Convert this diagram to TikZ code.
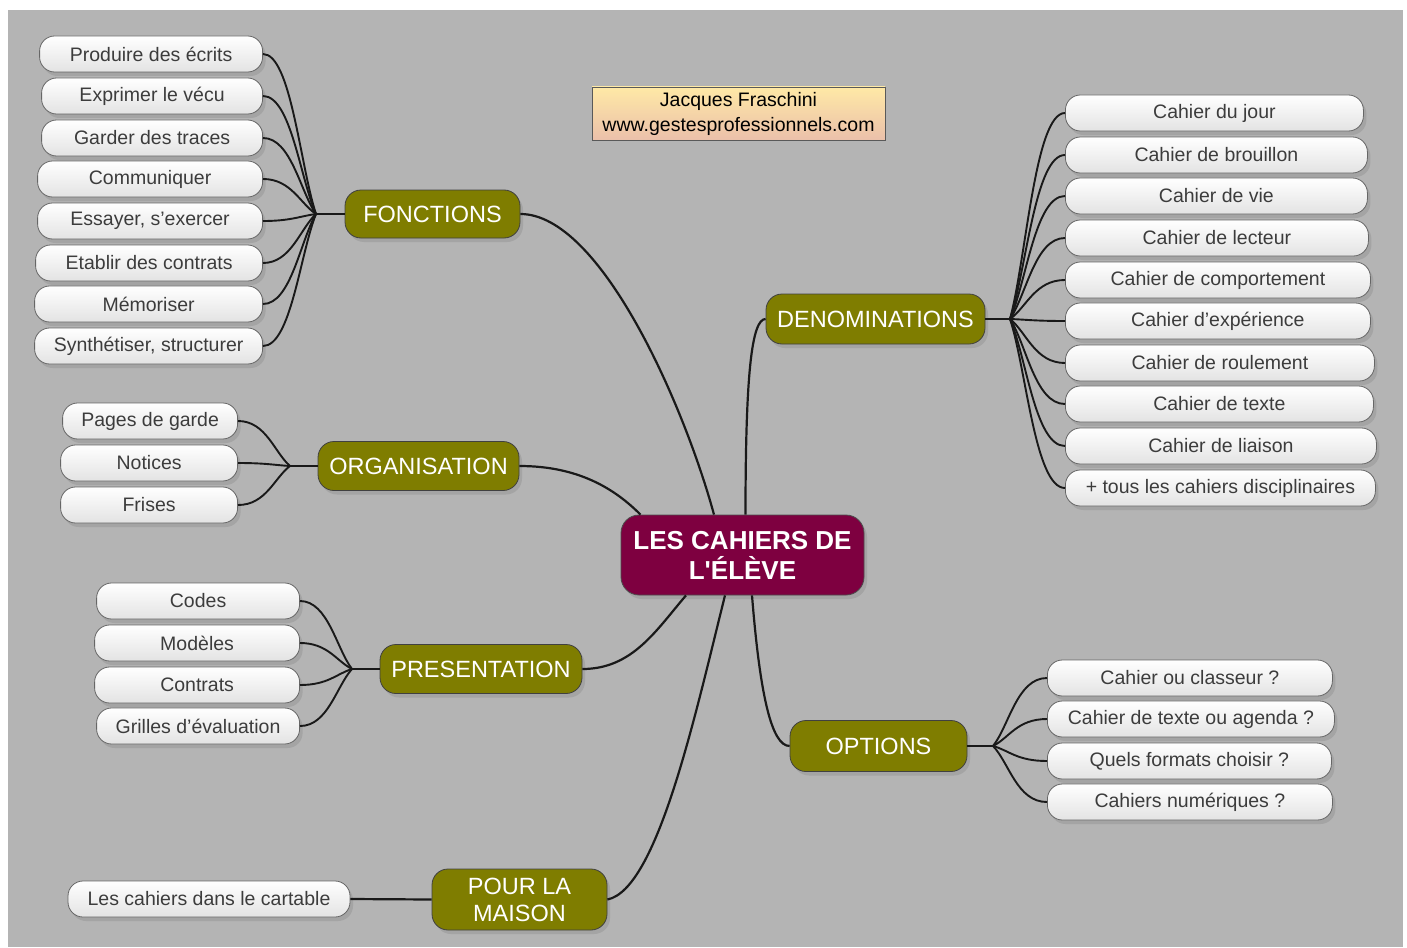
\documentclass[tikz,border=0pt]{standalone}
\usepackage{fontspec}
\setmainfont{Liberation Sans}
\newfontfamily\plainsans{Liberation Sans}
\usetikzlibrary{shadows,calc}
\definecolor{bgray}{HTML}{B4B4B4}
\definecolor{olivebr}{HTML}{7F7D00}
\definecolor{maroonc}{HTML}{7E0040}
\definecolor{leaftxt}{HTML}{3C3C3C}
\definecolor{authtop}{HTML}{FFE9A6}
\definecolor{authbot}{HTML}{EBC0AA}
\begin{document}
\begin{tikzpicture}[x=1pt,y=-1pt,
  leaf/.style={draw=gray!80!black, line width=0.8pt, rounded corners=15pt,
    top color=white, bottom color=gray!22, minimum height=36pt, inner sep=0pt,
    text=leaftxt, font=\fontsize{19.5}{23}\selectfont,
    drop shadow={shadow xshift=3pt,shadow yshift=-4pt,opacity=0.3}},
  branch/.style={draw=black!75, line width=0.8pt, rounded corners=16pt, fill=olivebr,
    inner sep=0pt, text=white, font=\fontsize{23.5}{27}\selectfont, align=center,
    drop shadow={shadow xshift=3pt,shadow yshift=-4pt,opacity=0.3}},
  central/.style={draw=black!70, line width=0.8pt, rounded corners=18pt, fill=maroonc,
    inner sep=0pt, text=white, font=\plainsans\fontsize{26}{30}\selectfont\bfseries, align=center,
    drop shadow={shadow xshift=3pt,shadow yshift=-4pt,opacity=0.3}},
  author/.style={draw=gray!70!black, line width=0.8pt, top color=authtop, bottom color=authbot,
    inner sep=0pt, align=center, font=\fontsize{19.5}{25}\selectfont},
  conn/.style={draw=black!90, line width=2.2pt},
  leafconn/.style={draw=black!90, line width=1.9pt}
]
\fill[white] (0,0) rectangle (1407,947);
\fill[bgray] (8,10) rectangle (1403,947);

% central node
\node[central, minimum width=243pt, minimum height=80pt] (c) at (742.5,555) {LES CAHIERS DE\\L'ÉLÈVE};

% author
\node[author, minimum width=293pt, minimum height=53pt] (auth) at (738.5,113.5) {Jacques Fraschini\\www.gestesprofessionnels.com};

% branches
\node[branch, minimum width=175pt, minimum height=48pt] (F) at (432.5,214) {FONCTIONS};
\node[branch, minimum width=201pt, minimum height=49pt] (O) at (418.5,466) {ORGANISATION};
\node[branch, minimum width=202pt, minimum height=49pt] (P) at (481,669) {PRESENTATION};
\node[branch, minimum width=175pt, minimum height=61pt] (M) at (519.5,899.5) {POUR LA\\MAISON};
\node[branch, minimum width=219pt, minimum height=50pt] (D) at (875.5,319) {DENOMINATIONS};
\node[branch, minimum width=177pt, minimum height=51pt] (Q) at (878.5,746) {OPTIONS};

% junctions
\coordinate (FJ) at (316,214);
\coordinate (OJ) at (290,466);
\coordinate (PJ) at (352,669);
\coordinate (DJ) at (1010,319);
\coordinate (QJ) at (993,746);

% FONCTIONS leaves
\node[leaf, minimum width=223pt, anchor=east] (f1) at (263,54) {Produire des écrits};
\node[leaf, minimum width=221pt, anchor=east] (f2) at (263,96) {Exprimer le vécu};
\node[leaf, minimum width=221pt, anchor=east] (f3) at (263,138) {Garder des traces};
\node[leaf, minimum width=225pt, anchor=east] (f4) at (263,179) {Communiquer};
\node[leaf, minimum width=225pt, anchor=east] (f5) at (263,221) {Essayer, s’exercer};
\node[leaf, minimum width=227pt, anchor=east] (f6) at (263,263) {Etablir des contrats};
\node[leaf, minimum width=228pt, anchor=east] (f7) at (263,304) {Mémoriser};
\node[leaf, minimum width=228pt, anchor=east] (f8) at (263,346) {Synthétiser, structurer};

% ORGANISATION leaves
\node[leaf, minimum width=175pt, anchor=east] (o1) at (238,421) {Pages de garde};
\node[leaf, minimum width=177pt, anchor=east] (o2) at (238,463) {Notices};
\node[leaf, minimum width=177pt, anchor=east] (o3) at (238,505) {Frises};

% PRESENTATION leaves
\node[leaf, minimum width=203pt, anchor=east] (p1) at (300,601) {Codes};
\node[leaf, minimum width=205pt, anchor=east] (p2) at (300,643) {Modèles};
\node[leaf, minimum width=205pt, anchor=east] (p3) at (300,685) {Contrats};
\node[leaf, minimum width=203pt, anchor=east] (p4) at (300,726) {Grilles d’évaluation};

% MAISON leaf
\node[leaf, minimum width=282pt] (m1) at (209,899) {Les cahiers dans le cartable};

% DENOMINATIONS leaves
\node[leaf, minimum width=298pt, anchor=west] (d1) at (1065,113) {Cahier du jour};
\node[leaf, minimum width=302pt, anchor=west] (d2) at (1065,155) {Cahier de brouillon};
\node[leaf, minimum width=302pt, anchor=west] (d3) at (1065,196) {Cahier de vie};
\node[leaf, minimum width=303pt, anchor=west] (d4) at (1065,238) {Cahier de lecteur};
\node[leaf, minimum width=305pt, anchor=west] (d5) at (1065,280) {Cahier de comportement};
\node[leaf, minimum width=305pt, anchor=west] (d6) at (1065,321) {Cahier d’expérience};
\node[leaf, minimum width=309pt, anchor=west] (d7) at (1065,363) {Cahier de roulement};
\node[leaf, minimum width=308pt, anchor=west] (d8) at (1065,404) {Cahier de texte};
\node[leaf, minimum width=311pt, anchor=west] (d9) at (1065,446) {Cahier de liaison};
\node[leaf, minimum width=310pt, anchor=west] (d10) at (1065,488) {+ tous les cahiers disciplinaires};

% OPTIONS leaves
\node[leaf, minimum width=285pt, anchor=west] (q1) at (1047,678) {Cahier ou classeur ?};
\node[leaf, minimum width=287pt, anchor=west] (q2) at (1047,719) {Cahier de texte ou agenda ?};
\node[leaf, minimum width=284pt, anchor=west] (q3) at (1047,761) {Quels formats choisir ?};
\node[leaf, minimum width=285pt, anchor=west] (q4) at (1047,802) {Cahiers numériques ?};

% central connectors
\draw[conn] (F.east) .. controls ($(F.east)+(80,0)$) and ($([xshift=-28.5pt]c.north)+(-30,-110)$) .. ([xshift=-28.5pt]c.north);
\draw[conn] (D.west) .. controls ($(D.west)+(-14,0)$) and ($([xshift=3pt]c.north)+(0,-140)$) .. ([xshift=3pt]c.north);
\draw[conn] (O.east) .. controls ($(O.east)+(60,0)$) and ($([xshift=-102pt]c.north)+(-25,-25)$) .. ([xshift=-102pt]c.north);
\draw[conn] (P.east) .. controls ($(P.east)+(50,0)$) and ($([xshift=-56.5pt]c.south)+(-30,35)$) .. ([xshift=-56.5pt]c.south);
\draw[conn] (M.east) .. controls ($(M.east)+(50,-10)$) and ($([xshift=-17.5pt]c.south)+(-30,120)$) .. ([xshift=-17.5pt]c.south);
\draw[conn] (Q.west) .. controls ($(Q.west)+(-18,0)$) and ($([xshift=9.5pt]c.south)+(8,100)$) .. ([xshift=9.5pt]c.south);

% branch to junction
\draw[conn] (F.west) -- (FJ);
\draw[conn] (O.west) -- (OJ);
\draw[conn] (P.west) -- (PJ);
\draw[conn] (D.east) -- (DJ);
\draw[conn] (Q.east) -- (QJ);
\draw[conn] (M.west) -- (m1.east);

% left leaf connectors
\foreach \n in {f1,f2,f3,f4,f5,f6,f7,f8}
  \draw[leafconn] (\n.east) .. controls ($(\n.east)+(28,0)$) and ($(FJ)!0.3!(\n.east)$) .. (FJ);
\foreach \n in {o1,o2,o3}
  \draw[leafconn] (\n.east) .. controls ($(\n.east)+(28,0)$) and ($(OJ)!0.3!(\n.east)$) .. (OJ);
\foreach \n in {p1,p2,p3,p4}
  \draw[leafconn] (\n.east) .. controls ($(\n.east)+(28,0)$) and ($(PJ)!0.3!(\n.east)$) .. (PJ);
% right leaf connectors
\foreach \n in {d1,d2,d3,d4,d5,d6,d7,d8,d9,d10}
  \draw[leafconn] (\n.west) .. controls ($(\n.west)+(-30,0)$) and ($(DJ)!0.3!(\n.west)$) .. (DJ);
\foreach \n in {q1,q2,q3,q4}
  \draw[leafconn] (\n.west) .. controls ($(\n.west)+(-30,0)$) and ($(QJ)!0.3!(\n.west)$) .. (QJ);
\end{tikzpicture}
\end{document}
